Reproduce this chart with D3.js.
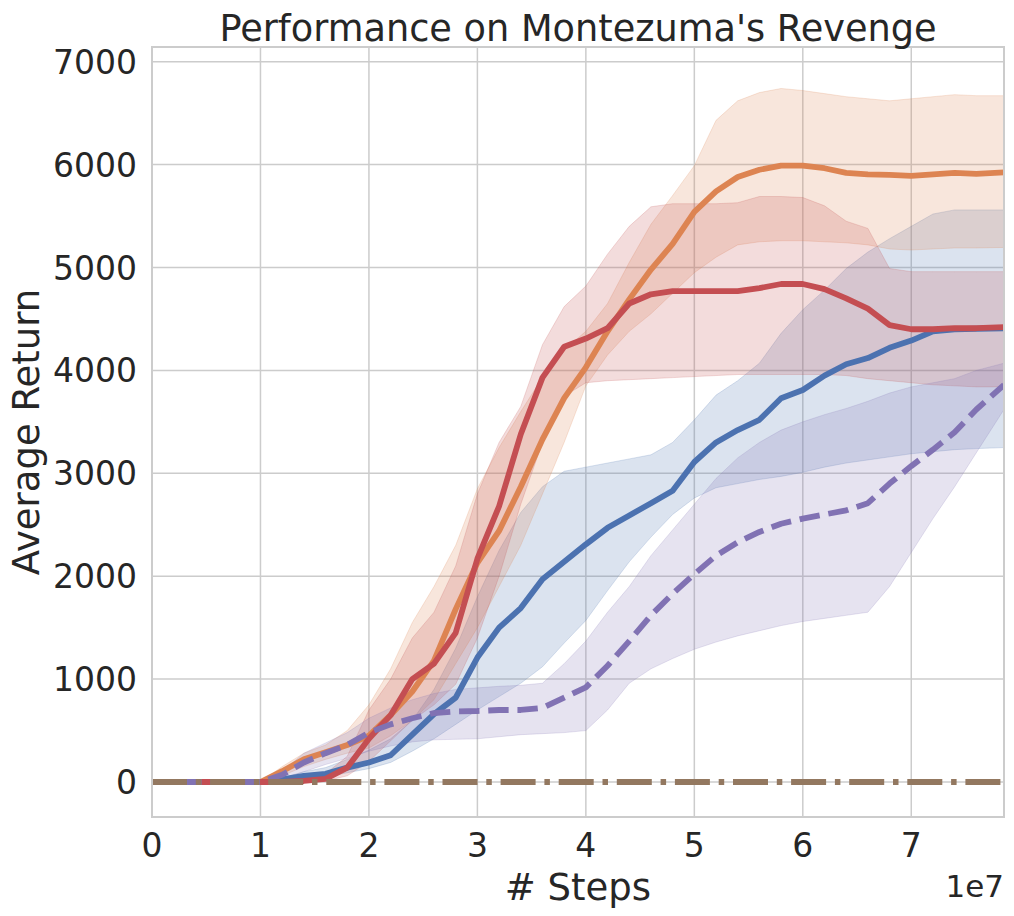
<!DOCTYPE html>
<html>
<head>
<meta charset="utf-8">
<script src="https://cdn.jsdelivr.net/npm/d3@7"></script>
<style>
  body { margin: 0; background: #fff; }
  text { font-family: "DejaVu Sans", sans-serif; fill: #262626; }
</style>
</head>
<body>
<svg id="chart"></svg>
<script>
// steps, in millions
var steps = [0, 10, 12, 14, 16, 18, 20, 22, 24, 26, 28, 30, 32, 34, 36, 38, 40, 42, 44, 46, 48,
             50, 52, 54, 56, 58, 60, 62, 64, 66, 68, 70, 72, 74, 76, 78.55];

var blueMean = [0, 0, 25, 60, 80, 140, 190, 260, 460, 660, 820, 1210, 1500, 1690, 1970, 2140, 2310, 2470, 2590, 2710, 2830,
                3110, 3300, 3420, 3520, 3730, 3810, 3950, 4060, 4120, 4220, 4290, 4380, 4400, 4405, 4410];
var blueLo   = [0, 0, 10, 30, 50, 90, 130, 190, 300, 420, 560, 700, 830, 960, 1120, 1350, 1570, 1860, 2140, 2380, 2600,
                2760, 2860, 2900, 2940, 2970, 3010, 3060, 3100, 3130, 3160, 3190, 3210, 3230, 3240, 3250];
var blueHi   = [0, 0, 40, 100, 140, 220, 310, 420, 600, 900, 1300, 1800, 2250, 2620, 2870, 3020, 3060, 3100, 3140, 3180, 3300,
                3520, 3760, 3900, 4070, 4360, 4590, 4780, 4990, 5150, 5280, 5400, 5520, 5560, 5560, 5560];

var orangeMean = [0, 0, 105, 220, 290, 360, 450, 650, 880, 1180, 1680, 2130, 2440, 2870, 3330, 3730, 4030, 4380, 4690, 4980, 5230,
                  5540, 5740, 5880, 5950, 5990, 5990, 5965, 5920, 5905, 5900, 5890, 5905, 5920, 5910, 5925];
var orangeLo   = [0, 0, 60, 150, 220, 280, 330, 450, 600, 800, 1150, 1500, 1900, 2300, 2800, 3300, 3850, 4150, 4380, 4550, 4750,
                  4950, 5100, 5220, 5250, 5260, 5260, 5250, 5240, 5220, 5180, 5170, 5180, 5190, 5190, 5195];
var orangeHi   = [0, 0, 150, 280, 360, 500, 750, 1100, 1550, 1900, 2300, 2850, 3250, 3600, 3930, 4200, 4380, 4650, 5050, 5420, 5700,
                  5990, 6430, 6620, 6700, 6740, 6720, 6690, 6660, 6640, 6620, 6640, 6660, 6680, 6670, 6670];

var redMean = [0, 0, 0, 10, 30, 140, 420, 650, 1000, 1150, 1450, 2170, 2680, 3380, 3930, 4230, 4310, 4410, 4650, 4740, 4770,
               4770, 4770, 4770, 4800, 4840, 4840, 4790, 4700, 4600, 4440, 4400, 4400, 4410, 4410, 4420];
var redLo   = [0, 0, 0, 0, 10, 60, 200, 400, 600, 750, 950, 1400, 2000, 2700, 3300, 3750, 3880, 3900, 3910, 3920, 3930,
               3940, 3950, 3960, 3960, 3960, 3960, 3960, 3950, 3920, 3900, 3880, 3860, 3850, 3840, 3840];
var redHi   = [0, 0, 0, 30, 80, 250, 700, 1000, 1400, 1650, 2100, 2800, 3300, 3650, 4250, 4620, 4820, 5130, 5400, 5590, 5620,
               5620, 5620, 5630, 5690, 5690, 5680, 5600, 5450, 5380, 4990, 4960, 4960, 4960, 4960, 4960];

var purpleMean = [0, 0, 70, 190, 280, 360, 480, 560, 620, 670, 685, 690, 700, 700, 720, 820, 920, 1130, 1370, 1620, 1830,
                  2020, 2200, 2330, 2430, 2510, 2560, 2600, 2640, 2710, 2900, 3070, 3230, 3400, 3620, 3860];
var purpleLo   = [0, 0, 30, 100, 170, 230, 300, 350, 390, 410, 415, 420, 440, 460, 470, 480, 500, 700, 960, 1100, 1200,
                  1290, 1360, 1420, 1470, 1520, 1560, 1590, 1620, 1650, 1900, 2230, 2560, 2870, 3200, 3620];
var purpleHi   = [0, 0, 100, 280, 380, 480, 620, 720, 800, 860, 900, 915, 930, 940, 960, 1150, 1370, 1650, 1900, 2200, 2450,
                  2700, 2950, 3150, 3300, 3420, 3500, 3570, 3630, 3700, 3780, 3840, 3880, 3920, 4000, 4070];

var brownMean = steps.map(function () { return 0; });

var xTicks = [0, 1, 2, 3, 4, 5, 6, 7];
var yTicks = [0, 1000, 2000, 3000, 4000, 5000, 6000, 7000];

var series = [
  { name: "blue",   color: "#4C72B0", mean: blueMean,   lo: blueLo,   hi: blueHi,   dash: null },
  { name: "orange", color: "#DD8452", mean: orangeMean, lo: orangeLo, hi: orangeHi, dash: null },
  { name: "red",    color: "#C44E52", mean: redMean,    lo: redLo,    hi: redHi,    dash: null },
  { name: "purple", color: "#8172B3", mean: purpleMean, lo: purpleLo, hi: purpleHi, dash: "20.4,8.8" },
  { name: "brown",  color: "#937860", mean: brownMean,  lo: null,     hi: null,     dash: "35,8.8,5.5,8.8" }
];

var W = 1014, H = 916;
var margin = { left: 152, right: 1004, top: 47, bottom: 817 };

var svg = d3.select("#chart").attr("width", W).attr("height", H);

var x = d3.scaleLinear().domain([0, 78.55]).range([margin.left, margin.right]);
var y = d3.scaleLinear().domain([-340, 7143]).range([margin.bottom, margin.top]);

var defs = svg.append("defs");
defs.append("clipPath").attr("id", "clip")
  .append("rect").attr("x", margin.left).attr("y", margin.top)
  .attr("width", margin.right - margin.left).attr("height", margin.bottom - margin.top);

// grid
svg.append("g").selectAll("line").data(xTicks).enter().append("line")
  .attr("x1", function (d) { return x(d * 10); }).attr("x2", function (d) { return x(d * 10); })
  .attr("y1", margin.top).attr("y2", margin.bottom)
  .attr("stroke", "#cccccc").attr("stroke-width", 1.5);
svg.append("g").selectAll("line").data(yTicks).enter().append("line")
  .attr("x1", margin.left).attr("x2", margin.right)
  .attr("y1", function (d) { return y(d); }).attr("y2", function (d) { return y(d); })
  .attr("stroke", "#cccccc").attr("stroke-width", 1.5);

var plot = svg.append("g").attr("clip-path", "url(#clip)");

// bands first, lines on top
var area = d3.area()
  .x(function (d) { return x(d.s); })
  .y0(function (d) { return y(d.lo); })
  .y1(function (d) { return y(d.hi); });

series.forEach(function (s) {
  if (!s.lo) return;
  var pts = steps.map(function (st, i) { return { s: st, lo: s.lo[i], hi: s.hi[i] }; })
    .filter(function (d) { return d.s >= 10; });
  plot.append("path").datum(pts)
    .attr("d", area)
    .attr("fill", s.color).attr("fill-opacity", 0.2)
    .attr("stroke", s.color).attr("stroke-opacity", 0.2).attr("stroke-width", 1);
});

var line = d3.line()
  .x(function (d) { return x(d.s); })
  .y(function (d) { return y(d.v); });

series.forEach(function (s) {
  var pts = steps.map(function (st, i) { return { s: st, v: s.mean[i] }; });
  plot.append("path").datum(pts)
    .attr("d", line)
    .attr("fill", "none")
    .attr("stroke", s.color)
    .attr("stroke-width", 5.8)
    .attr("stroke-linejoin", "round")
    .attr("stroke-dasharray", s.dash);
});

// frame
svg.append("rect").attr("x", margin.left).attr("y", margin.top)
  .attr("width", margin.right - margin.left).attr("height", margin.bottom - margin.top)
  .attr("fill", "none").attr("stroke", "#cccccc").attr("stroke-width", 2);

// tick labels
svg.append("g").selectAll("text").data(xTicks).enter().append("text")
  .attr("x", function (d) { return x(d * 10); }).attr("y", 857)
  .attr("text-anchor", "middle").style("font-size", "33px")
  .text(function (d) { return d; });
svg.append("g").selectAll("text").data(yTicks).enter().append("text")
  .attr("x", 137).attr("y", function (d) { return y(d) + 12; })
  .attr("text-anchor", "end").style("font-size", "33px")
  .text(function (d) { return d; });

svg.append("text").attr("x", 1004).attr("y", 897).attr("text-anchor", "end")
  .style("font-size", "31px").text("1e7");

// labels
svg.append("text").attr("x", (margin.left + margin.right) / 2).attr("y", 41).attr("text-anchor", "middle")
  .style("font-size", "36.7px").text("Performance on Montezuma's Revenge");
svg.append("text").attr("x", (margin.left + margin.right) / 2).attr("y", 900).attr("text-anchor", "middle")
  .style("font-size", "37px").text("# Steps");
svg.append("text").attr("transform", "translate(39," + (margin.top + margin.bottom) / 2 + ") rotate(-90)")
  .attr("text-anchor", "middle").style("font-size", "37px").text("Average Return");
</script>
</body>
</html>
